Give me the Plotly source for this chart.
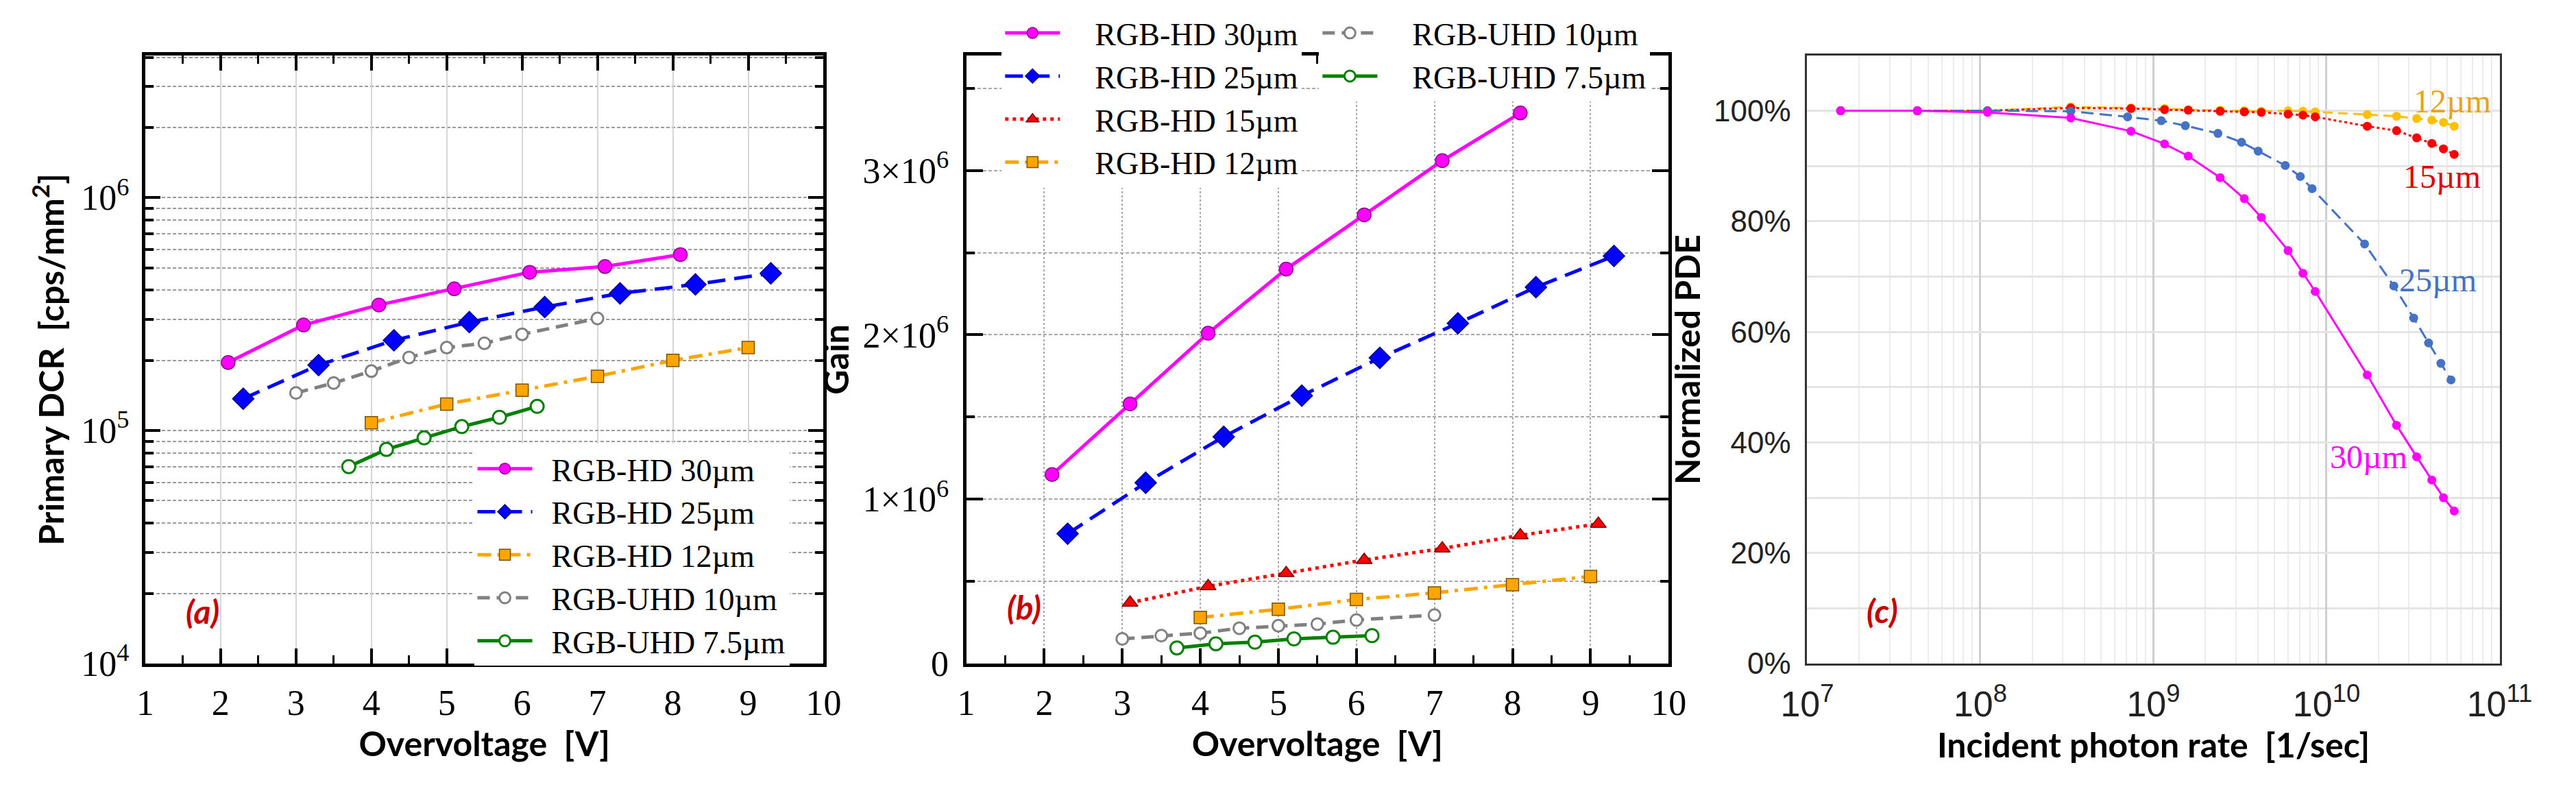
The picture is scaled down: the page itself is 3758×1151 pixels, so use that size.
import math
import plotly.graph_objects as go

# ---------------- data ----------------
# (a) primary DCR [cps/mm^2] vs overvoltage [V]
ov_a_30 = [2.1, 3.1, 4.1, 5.1, 6.1, 7.1, 8.1]
dcr_30 = [1.96e5, 2.84e5, 3.46e5, 4.06e5, 4.78e5, 5.06e5, 5.69e5]
ov_a_25 = [2.3, 3.3, 4.3, 5.3, 6.3, 7.3, 8.3, 9.3]
dcr_25 = [1.37e5, 1.91e5, 2.44e5, 2.92e5, 3.39e5, 3.88e5, 4.24e5, 4.73e5]
ov_a_12 = [4, 5, 6, 7, 8, 9]
dcr_12 = [1.08e5, 1.30e5, 1.49e5, 1.71e5, 2.00e5, 2.27e5]
ov_a_10 = [3, 3.5, 4, 4.5, 5, 5.5, 6, 7]
dcr_10 = [1.45e5, 1.60e5, 1.80e5, 2.06e5, 2.27e5, 2.37e5, 2.59e5, 3.03e5]
ov_a_75 = [3.7, 4.2, 4.7, 5.2, 5.7, 6.2]
dcr_75 = [7.0e4, 8.3e4, 9.3e4, 1.04e5, 1.14e5, 1.27e5]

# (b) gain vs overvoltage [V]
ov_b_30 = [2.1, 3.1, 4.1, 5.1, 6.1, 7.1, 8.1]
gain_30 = [1.15e6, 1.58e6, 2.01e6, 2.40e6, 2.73e6, 3.06e6, 3.35e6]
ov_b_25 = [2.3, 3.3, 4.3, 5.3, 6.3, 7.3, 8.3, 9.3]
gain_25 = [0.79e6, 1.10e6, 1.38e6, 1.63e6, 1.86e6, 2.07e6, 2.29e6, 2.48e6]
ov_b_15 = [3.1, 4.1, 5.1, 6.1, 7.1, 8.1, 9.1]
gain_15 = [0.37e6, 0.47e6, 0.55e6, 0.63e6, 0.70e6, 0.78e6, 0.85e6]
ov_b_12 = [4, 5, 6, 7, 8, 9]
gain_12 = [0.28e6, 0.33e6, 0.39e6, 0.43e6, 0.48e6, 0.53e6]
ov_b_10 = [3, 3.5, 4, 4.5, 5, 5.5, 6, 7]
gain_10 = [0.15e6, 0.17e6, 0.185e6, 0.215e6, 0.23e6, 0.24e6, 0.265e6, 0.295e6]
ov_b_75 = [3.7, 4.2, 4.7, 5.2, 5.7, 6.2]
gain_75 = [0.095e6, 0.12e6, 0.13e6, 0.15e6, 0.16e6, 0.17e6]

# (c) normalized PDE vs incident photon rate [1/sec]
rate_c = [1.56e7, 4.33e7, 1.10e8, 3.33e8, 7.42e8, 1.16e9, 1.59e9, 2.43e9, 3.35e9, 4.20e9,
          6.0e9, 7.31e9, 8.61e9, 1.72e10, 2.54e10, 3.32e10, 4.06e10, 4.74e10, 5.47e10]
rate_c_25 = [1.56e7, 4.33e7, 1.10e8, 3.33e8, 7.1e8, 1.11e9, 1.53e9, 2.36e9, 3.23e9, 4.03e9,
             5.78e9, 7.06e9, 8.26e9, 1.66e10, 2.45e10, 3.19e10, 3.89e10, 4.58e10, 5.24e10]
pde_30 = [1.0, 1.0, 0.997, 0.987, 0.963, 0.940, 0.918, 0.879, 0.841, 0.807,
          0.747, 0.706, 0.673, 0.522, 0.431, 0.374, 0.332, 0.300, 0.276]
pde_25 = [1.0, 1.0, 1.0, 0.999, 0.989, 0.982, 0.973, 0.959, 0.943, 0.927,
          0.901, 0.881, 0.859, 0.759, 0.683, 0.625, 0.580, 0.543, 0.513]
pde_15 = [1.0, 1.0, 1.0, 1.005, 1.004, 1.002, 1.001, 0.999, 0.998, 0.997,
          0.994, 0.992, 0.989, 0.972, 0.964, 0.951, 0.941, 0.931, 0.921]
pde_12 = [1.0, 1.0, 1.0, 1.007, 1.005, 1.004, 1.002, 1.001, 1.0, 0.999,
          1.0, 0.999, 0.998, 0.993, 0.990, 0.986, 0.983, 0.979, 0.972]

labels_c = ['12µm', '15µm', '25µm', '30µm']
label_x_c = [5.35e10, 4.65e10, 4.42e10, 1.75e10]
label_y_c = [1.018, 0.881, 0.694, 0.374]

W, H = 3758, 1151
SERIF = 'Liberation Serif, Times New Roman, serif'
NARROW = 'Liberation Sans Narrow, Arial Narrow, Liberation Sans, sans-serif'
TITLE_FONT = dict(family='Lato, Open Sans, sans-serif', size=50, color='black', weight='bold')

# one style per detector, shared by panels (a) and (b)
styles = {
    '30': dict(name='RGB-HD 30µm', color='#FF00FF', dash='solid', symbol='circle',
               fill='#FF00FF', edge='#8B008B', size=20),
    '25': dict(name='RGB-HD 25µm', color='#0000FF', dash='26px,13px', symbol='diamond',
               fill='#0000FF', edge='#00008B', size=24),
    '15': dict(name='RGB-HD 15µm', color='#FF0000', dash='5px,6px', symbol='triangle-up',
               fill='#FF0000', edge='#700000', size=20),
    '12': dict(name='RGB-HD 12µm', color='#FFA500', dash='20px,9px,5px,9px', symbol='square',
               fill='#FFA500', edge='#7A5200', size=18),
    '10': dict(name='RGB-UHD 10µm', color='#808080', dash='18px,10px', symbol='circle',
               fill='white', edge='#808080', size=17),
    '75': dict(name='RGB-UHD 7.5µm', color='#008000', dash='solid', symbol='circle',
               fill='white', edge='#008000', size=19),
}


def series(key, x, y, xa, ya, legend, group, pad):
    s = styles[key]
    open_marker = s['fill'] == 'white'
    return go.Scatter(
        x=x, y=y, xaxis=xa, yaxis=ya, mode='lines+markers', name=pad + s['name'],
        legend=legend, legendgroup=group,
        line=dict(color=s['color'], width=5, dash=s['dash']),
        marker=dict(symbol=s['symbol'], size=s['size'], color=s['fill'],
                    line=dict(color=s['edge'], width=3 if open_marker else 1.5)),
    )


fig = go.Figure()

# panel (a)
pa = '  '
fig.add_trace(series('30', ov_a_30, dcr_30, 'x', 'y', 'legend', 'a30', pa))
fig.add_trace(series('25', ov_a_25, dcr_25, 'x', 'y', 'legend', 'a25', pa))
fig.add_trace(series('12', ov_a_12, dcr_12, 'x', 'y', 'legend', 'a12', pa))
fig.add_trace(series('10', ov_a_10, dcr_10, 'x', 'y', 'legend', 'a10', pa))
fig.add_trace(series('75', ov_a_75, dcr_75, 'x', 'y', 'legend', 'a75', pa))

# panel (b)
pb = '    '
fig.add_trace(series('30', ov_b_30, gain_30, 'x2', 'y2', 'legend2', 'b30', pb))
fig.add_trace(series('25', ov_b_25, gain_25, 'x2', 'y2', 'legend2', 'b25', pb))
fig.add_trace(series('15', ov_b_15, gain_15, 'x2', 'y2', 'legend2', 'b15', pb))
fig.add_trace(series('12', ov_b_12, gain_12, 'x2', 'y2', 'legend2', 'b12', pb))
fig.add_trace(series('10', ov_b_10, gain_10, 'x2', 'y2', 'legend3', 'b10', pb))
fig.add_trace(series('75', ov_b_75, gain_75, 'x2', 'y2', 'legend3', 'b75', pb))

# panel (c)
c_lines = [
    (rate_c, pde_12, '#FFC000', '14px,8px'),
    (rate_c, pde_15, '#FF0000', '4px,4px'),
    (rate_c_25, pde_25, '#4472C4', '18px,9px'),
    (rate_c, pde_30, '#FF00FF', 'solid'),
]
for xs, ys, col, dash in c_lines:
    fig.add_trace(go.Scatter(
        x=xs, y=ys, xaxis='x3', yaxis='y3', mode='lines+markers', showlegend=False,
        line=dict(color=col, width=3, dash=dash),
        marker=dict(symbol='circle', size=13, color=col),
    ))

# annotations on a log axis take the exponent
label_cols = ['#E8A317', '#E00000', '#4472C4', '#FF00FF']
for txt, lx, ly, col in zip(labels_c, label_x_c, label_y_c, label_cols):
    fig.add_annotation(x=math.log10(lx), y=ly, xref='x3', yref='y3', text=txt, showarrow=False,
                       xanchor='center', font=dict(family=SERIF, size=48, color=col))

# panel tags
tag_font = dict(family='Lato, Open Sans, sans-serif', size=48, color='#C80000',
                weight='bold', style='italic')
fig.add_annotation(x=1.76, y=4.226, xref='x', yref='y', text='(a)', showarrow=False, font=tag_font)
fig.add_annotation(x=1.74, y=0.346e6, xref='x2', yref='y2', text='(b)', showarrow=False, font=tag_font)
fig.add_annotation(x=7.435, y=0.096, xref='x3', yref='y3', text='(c)', showarrow=False, font=tag_font)

# ---------------- axes ----------------
def px_x(a, b):
    return [a / W, b / W]


y_dom = [1 - 993 / H, 1 - 83 / H]
serif_ticks = dict(family=SERIF, size=52, color='black')

volt_axis = dict(
    range=[1, 10], tickmode='linear', tick0=1, dtick=1,
    ticks='inside', ticklen=22, tickwidth=4, tickcolor='black',
    minor=dict(dtick=0.5, tick0=1, ticks='inside', ticklen=12, tickwidth=3, tickcolor='black'),
    showline=True, linewidth=5, linecolor='black', mirror='ticks',
    showgrid=True, zeroline=False, tickfont=serif_ticks, ticklabelstandoff=8,
)

dec_a = [1e4, 1e5, 1e6]
minor_a = [m * d for d in dec_a for m in range(2, 10) if m * d <= 4e6]

fig.update_layout(
    xaxis=dict(volt_axis, domain=px_x(177, 1190), anchor='y', gridcolor='#d6d6d6', gridwidth=2,
               title=dict(text='Overvoltage  [V]', font=TITLE_FONT, standoff=12)),
    yaxis=dict(
        domain=y_dom, anchor='x', type='log', range=[4, 6.61],
        tickmode='array', tickvals=dec_a, ticktext=['10<sup>%d</sup>' % e for e in (4, 5, 6)],
        ticks='inside', ticklen=22, tickwidth=4, tickcolor='black',
        minor=dict(tickmode='array', tickvals=minor_a, ticks='inside', ticklen=12, tickwidth=4,
                   tickcolor='black', showgrid=True, gridcolor='#9a9a9a', gridwidth=2, griddash='5px,3px'),
        showline=True, linewidth=5, linecolor='black', mirror='ticks',
        showgrid=True, gridcolor='#9a9a9a', gridwidth=2, griddash='5px,3px', zeroline=False,
        tickfont=serif_ticks, ticklabelstandoff=8,
        title=dict(text='Primary DCR  [cps/mm<sup>2</sup>]', font=TITLE_FONT, standoff=10),
    ),
    xaxis2=dict(volt_axis, domain=px_x(1403, 2452), anchor='y2', gridcolor='#a8a8a8', gridwidth=2,
                griddash='3px,3px',
                title=dict(text='Overvoltage  [V]', font=TITLE_FONT, standoff=12)),
    yaxis2=dict(
        domain=y_dom, anchor='x2', range=[0, 3.7e6],
        tickmode='array', tickvals=[0, 1e6, 2e6, 3e6],
        ticktext=['0', '1×10<sup>6</sup>', '2×10<sup>6</sup>', '3×10<sup>6</sup>'],
        ticks='inside', ticklen=24, tickwidth=4, tickcolor='black',
        minor=dict(tickmode='array', tickvals=[0.5e6, 1.5e6, 2.5e6, 3.5e6], ticks='inside',
                   ticklen=12, tickwidth=4, tickcolor='black', showgrid=True,
                   gridcolor='#a8a8a8', gridwidth=2, griddash='5px,3px'),
        showline=True, linewidth=5, linecolor='black', mirror='ticks',
        showgrid=True, gridcolor='#a8a8a8', gridwidth=2, griddash='5px,3px', zeroline=False,
        tickfont=serif_ticks, ticklabelstandoff=10,
        title=dict(text='Gain', font=TITLE_FONT, standoff=6),
    ),
    xaxis3=dict(
        domain=px_x(2659, 3693), anchor='y3', type='log', range=[7, 11],
        tickmode='array', tickvals=[10 ** e for e in range(7, 12)],
        ticktext=['10<sup>%d</sup>' % e for e in range(7, 12)],
        minor=dict(tickmode='array',
                   tickvals=[m * 10 ** e for e in range(7, 11) for m in range(2, 10)],
                   showgrid=True, gridcolor='#ececec', gridwidth=2),
        showline=True, linewidth=3, linecolor='#333333', mirror=True,
        showgrid=True, gridcolor='#cfcfcf', gridwidth=3, zeroline=False,
        tickfont=dict(family=NARROW, size=52, color='#222222'), ticklabelstandoff=12,
        title=dict(text='Incident photon rate  [1/sec]', font=TITLE_FONT, standoff=6),
    ),
    yaxis3=dict(
        domain=y_dom, anchor='x3', range=[0, 1.10],
        tickmode='array', tickvals=[0, 0.2, 0.4, 0.6, 0.8, 1.0],
        ticktext=['0%', '20%', '40%', '60%', '80%', '100%'],
        minor=dict(tickmode='array', tickvals=[0.1, 0.3, 0.5, 0.7, 0.9],
                   showgrid=True, gridcolor='#e4e4e4', gridwidth=3),
        showline=True, linewidth=3, linecolor='#333333', mirror=True,
        showgrid=True, gridcolor='#e4e4e4', gridwidth=3, zeroline=False,
        tickfont=dict(family=NARROW, size=44, color='#222222'), ticklabelstandoff=12,
        title=dict(text='Normalized PDE', font=TITLE_FONT, standoff=4),
    ),
)

legend_common = dict(bgcolor='white', borderwidth=0, itemwidth=80, traceorder='normal',
                     font=dict(family=SERIF, size=46, color='black'),
                     xanchor='left', yanchor='top', orientation='v')
fig.update_layout(
    legend=dict(legend_common, x=668 / W, y=1 - 664 / H, tracegroupgap=0),
    legend2=dict(legend_common, x=1456 / W, y=1 - 12 / H, tracegroupgap=3),
    legend3=dict(legend_common, x=1930 / W, y=1 - 12 / H, tracegroupgap=3),
    width=W, height=H, margin=dict(l=0, r=0, t=0, b=0),
    paper_bgcolor='white', plot_bgcolor='white',
)

fig.write_html('out.html', config={'displayModeBar': False},
               post_script="document.body.style.margin='0px';")
